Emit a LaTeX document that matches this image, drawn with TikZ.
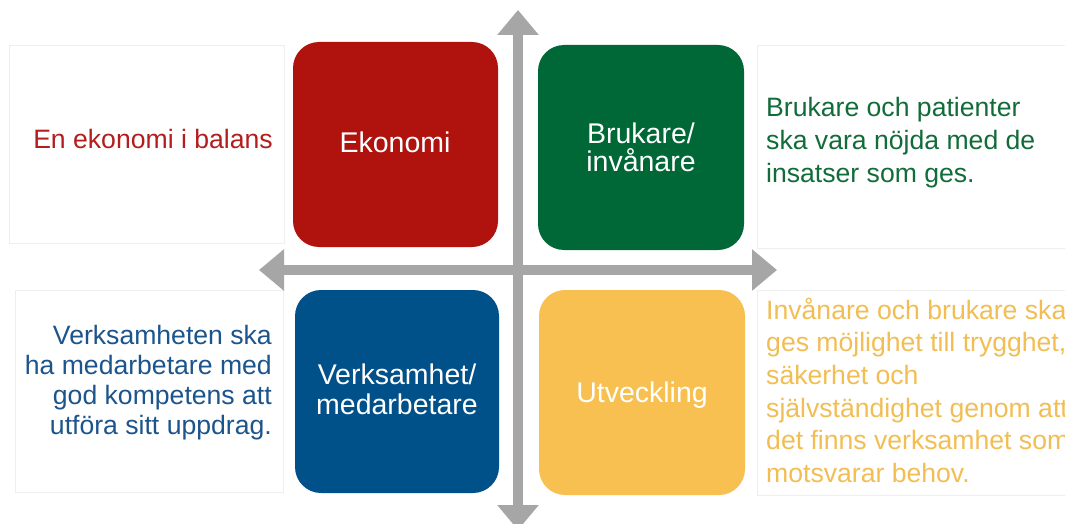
\documentclass[tikz,border=0pt]{standalone}
\usepackage{fontspec}
\setmainfont{Liberation Sans}
\usetikzlibrary{arrows.meta}
\definecolor{ekred}{RGB}{176,18,14}
\definecolor{brgreen}{RGB}{0,104,55}
\definecolor{vmblue}{RGB}{0,80,138}
\definecolor{utyellow}{RGB}{247,192,80}
\definecolor{axisgray}{RGB}{166,166,166}
\definecolor{faintframe}{RGB}{238,238,238}
\definecolor{tred}{RGB}{178,30,30}
\definecolor{tgreen}{RGB}{18,108,58}
\definecolor{tblue}{RGB}{28,84,140}
\definecolor{tyellow}{RGB}{242,190,84}
\begin{document}
\begin{tikzpicture}[x=1pt,y=-1pt,
  quad/.style={rounded corners=26pt, inner sep=0pt, draw=none},
  sideframe/.style={draw=faintframe, line width=0.8pt},
  axisline/.style={draw=axisgray, line width=10.5pt,
    {Triangle[width=40pt,length=25pt]}-{Triangle[width=40pt,length=25pt]}},
  quadlabel/.style={inner sep=0pt, text=white, font=\fontsize{28.5}{30}\selectfont},
  sidetext/.style={inner sep=0pt, font=\fontsize{26.6}{32}\selectfont}]
\useasboundingbox[fill=white] (0,0) rectangle (1065,524);

% faint frames around the side texts
\draw[sideframe] (9,45) rectangle (284,243);
\draw[sideframe] (15,290) rectangle (283,492);
\draw[sideframe] (757,45) rectangle (1072,248);
\draw[sideframe] (757,290) rectangle (1072,495);

% axes
\coordinate (vtop) at (518,10);
\coordinate (vbot) at (518,530);
\coordinate (hleft) at (259,270);
\coordinate (hright) at (777,270);
\draw[axisline] (vtop) -- (vbot);
\draw[axisline] (hleft) -- (hright);

% quadrant boxes
\node[quad, fill=ekred, minimum width=205pt, minimum height=205pt] (eko) at (395.5,144.5) {};
\node[quad, fill=brgreen, minimum width=206pt, minimum height=205pt] (bru) at (641,147.5) {};
\node[quad, fill=vmblue, minimum width=204pt, minimum height=203pt] (vm) at (397,391.5) {};
\node[quad, fill=utyellow, minimum width=206pt, minimum height=205pt] (utv) at (642,392.5) {};

% quadrant labels
\node[quadlabel, anchor=base] (ekoA) at (395,153) {Ekonomi};
\node[quadlabel, anchor=base] (bruA) at (641,143) {Brukare/};
\node[quadlabel, anchor=base] (bruB) at (641,171) {invånare};
\node[quadlabel, anchor=base] (vmA) at (397,384) {Verksamhet/};
\node[quadlabel, anchor=base] (vmB) at (397,414) {medarbetare};
\node[quadlabel, anchor=base] (utvA) at (642,402) {Utveckling};

% side texts
\node[sidetext, text=tred, anchor=base east] (ekoT) at (273,148) {En ekonomi i balans};

\node[sidetext, text=tblue, anchor=base east] (vmT1) at (272,344) {Verksamheten ska};
\node[sidetext, text=tblue, anchor=base east] (vmT2) at (272,374) {ha medarbetare med};
\node[sidetext, text=tblue, anchor=base east] (vmT3) at (272,404) {god kompetens att};
\node[sidetext, text=tblue, anchor=base east] (vmT4) at (272,434) {utföra sitt uppdrag.};

\node[sidetext, text=tgreen, anchor=base west] (bruT1) at (766,117) {Brukare och patienter};
\node[sidetext, text=tgreen, anchor=base west] (bruT2) at (766,149.5) {ska vara nöjda med de};
\node[sidetext, text=tgreen, anchor=base west] (bruT3) at (766,182) {insatser som ges.};

\node[sidetext, text=tyellow, anchor=base west] (utvT1) at (766,319) {Invånare och brukare ska};
\node[sidetext, text=tyellow, anchor=base west] (utvT2) at (766,351.7) {ges möjlighet till trygghet,};
\node[sidetext, text=tyellow, anchor=base west] (utvT3) at (766,384.4) {säkerhet och};
\node[sidetext, text=tyellow, anchor=base west] (utvT4) at (766,417) {självständighet genom att};
\node[sidetext, text=tyellow, anchor=base west] (utvT5) at (766,449.8) {det finns verksamhet som};
\node[sidetext, text=tyellow, anchor=base west] (utvT6) at (766,482.5) {motsvarar behov.};
\end{tikzpicture}
\end{document}
